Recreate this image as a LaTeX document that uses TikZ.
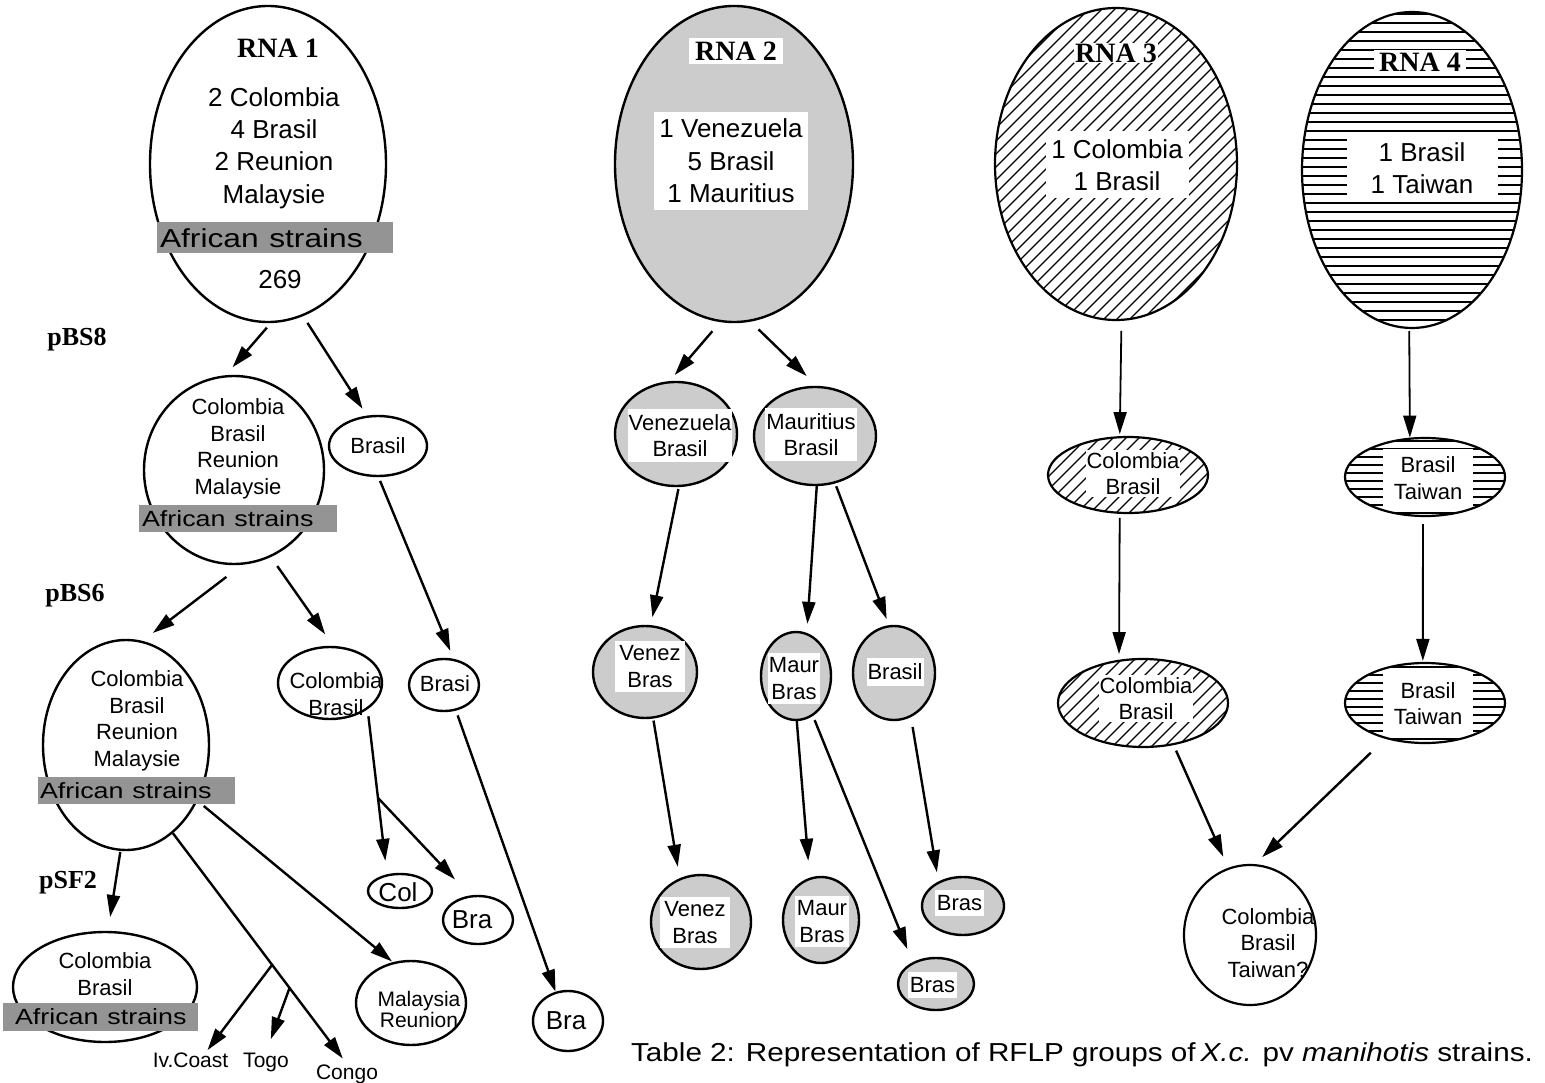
\documentclass[tikz,border=0pt]{standalone}
\usepackage{fontspec}
\setmainfont{Liberation Sans}
\newfontfamily\tnr{Liberation Serif}
\usepackage{graphicx}
\usetikzlibrary{shapes.geometric,arrows.meta,calc}
\newcommand\afrtxt{\scalebox{1.22}[1]{African strains}}
\tikzset{
  ell/.style={ellipse, draw, line width=2.4pt, inner sep=0pt},
  ellg/.style={ell, fill=black!20},
  ellt/.style={ellipse, draw, line width=2.2pt, inner sep=0pt},
  arr/.style={line width=2.4pt, -{Triangle[length=22pt,width=13pt]}},
  arrt/.style={line width=1.8pt, -{Triangle[length=22pt,width=13pt]}},
  fL/.style={inner sep=0pt, align=center, font=\fontsize{26}{32.4}\selectfont},
  fM/.style={inner sep=0pt, align=center, font=\fontsize{22}{26.5}\selectfont},
  fS/.style={inner sep=0pt, align=center, font=\fontsize{21}{21}\selectfont},
  hdr/.style={inner sep=0pt, font=\tnr\bfseries\fontsize{28}{30}\selectfont},
  plab/.style={inner sep=0pt, anchor=base, font=\tnr\bfseries\fontsize{26}{28}\selectfont},
  afr/.style={fill=black!42, inner ysep=0pt, align=left},
  wbox/.style={fill=white},
  hatch/.style={line width=1.3pt},
  hline/.style={line width=1.8pt},
}
\begin{document}
\begin{tikzpicture}[x=1pt,y=-1pt]
\fill[white] (0,0) rectangle (1545,1083);
\useasboundingbox (0,0) rectangle (1545,1083);

% ---------------- RNA 1 group ----------------
\node[ell, minimum width=236, minimum height=316] (rna1) at (268,164) {};
\node[hdr] (rna1h) at (278,48) {RNA 1};
\node[fL] (rna1t) at (274,148) {2 Colombia\\4 Brasil\\2 Reunion\\Malaysie};
\node[afr, font=\fontsize{26}{30}\selectfont, text width=230pt, inner xsep=3pt, minimum height=31pt] (rna1a) at (275,238) {\afrtxt};
\node[fL] (rna1n) at (280,280) {269};

\node[plab] (pbs8) at (77,345) {pBS8};
\node[plab] (pbs6) at (75,601) {pBS6};
\node[plab] (psf2) at (68,888) {pSF2};

\node[ell, minimum width=180, minimum height=188] (mid) at (234,470) {};
\node[fM] (midt) at (238,449) {Colombia\\Brasil\\Reunion\\Malaysie};
\node[afr, font=\fontsize{22}{26}\selectfont, text width=192pt, inner xsep=3pt, minimum height=27pt] (mida) at (238,518.5) {\afrtxt};

\node[ell, minimum width=98, minimum height=60] (brasil) at (378,446) {};
\node[fM] (brasilt) at (378,446) {Brasil};

\node[ell, minimum width=166, minimum height=210] (big) at (126,745) {};
\node[fM] (bigt) at (137,721) {Colombia\\Brasil\\Reunion\\Malaysie};
\node[afr, font=\fontsize{22}{26}\selectfont, text width=193pt, inner xsep=2pt, minimum height=27pt] (biga) at (136.5,790.5) {\afrtxt};

\node[ell, minimum width=104, minimum height=72] (colbra) at (330,683) {};
\node[fM] (colbrat) at (336,694) {Colombia\\Brasil};

\node[ell, minimum width=70, minimum height=52] (brasi) at (444,685) {};
\node[fM] (brasit) at (445,684) {Brasi};

\node[ell, minimum width=64, minimum height=34] (col) at (400,891) {};
\node[fL] (colt) at (398,892) {Col};

\node[ell, minimum width=70, minimum height=48] (bra) at (478,920) {};
\node[fL] (brat) at (472,920) {Bra};

\node[ell, minimum width=70, minimum height=60] (brab) at (568,1021) {};
\node[fL] (brabt) at (566,1021) {Bra};

\node[ell, minimum width=184, minimum height=110] (cba) at (105,987) {};
\node[fM] (cbat) at (105,974) {Colombia\\Brasil};
\node[afr, font=\fontsize{22}{26}\selectfont, text width=171pt, inner xsep=12pt, minimum height=28pt] (cbaa) at (100.5,1017) {\afrtxt};

\node[ell, minimum width=110, minimum height=84] (malay) at (411,1003) {};
\node[fS] (malayt) at (419,1009) {Malaysia\\Reunion};

\node[fS, anchor=base] (ivc) at (190.5,1067) {Iv.Coast};
\node[fS, anchor=base] (togo) at (266,1067) {Togo};
\node[fS, anchor=base] (congo) at (347,1079) {Congo};

% arrows, RNA 1 group
\draw[arr, shorten <=6pt, shorten >=10.5pt] (rna1.271) -- (mid.95);
\draw[arr, shorten <=8pt, shorten >=8pt] (rna1.283) -- (brasil.110);
\draw[arr, shorten <=20pt, shorten >=13pt] (mid.275) -- (big.81);
\draw[arr, shorten <=11pt, shorten >=14pt] (mid.293) -- (colbra.85);
\draw[arr, shorten <=4pt, shorten >=8.5pt] (brasil.271) -- (brasi.70);
\draw[arr, shorten <=7pt, shorten >=13.5pt] (colbra.325) -- (col.128);
\coordinate (brc) at ($(colbra.325)!0.537!(col.128)$);
\draw[arr, shorten >=22pt] (brc) -- (bra.108);
\draw[arr, shorten <=5pt] (brasi.295) -- (brab.113);
\draw[arr, shorten <=1pt, shorten >=14pt] (big.267) -- (cba.87);
\draw[arr, shorten >=7pt] (big.298) -- (congo.north);
\coordinate (b1) at ($(big.298)!0.57!(congo.north)$);
\coordinate (b2) at ($(big.298)!0.67!(congo.north)$);
\draw[arr] (b1) -- ($(ivc.north)+(17,-2)$);
\draw[arr, shorten >=14pt] (b2) -- (togo.north);
\draw[arr, shorten <=8pt, shorten >=1pt] (big.322) -- (malay.114);

% ---------------- RNA 2 group ----------------
\node[ellg, minimum width=238, minimum height=316] (rna2) at (734,164) {};
\node[hdr, wbox, inner xsep=6pt, inner ysep=4pt] (rna2h) at (736,51) {RNA 2};
\node[fL, wbox, minimum width=154, minimum height=98] (rna2t) at (731,161) {1 Venezuela\\5 Brasil\\1 Mauritius};

\node[ellg, minimum width=122, minimum height=104] (vb) at (676,434) {};
\node[fM, wbox, inner xsep=1pt, inner ysep=5pt] (vbt) at (680,435.5) {Venezuela\\Brasil};
\node[ellg, minimum width=122, minimum height=98] (mb) at (815,436) {};
\node[fM, wbox, inner xsep=1pt, inner ysep=5pt] (mbt) at (811,434.5) {Mauritius\\Brasil};

\node[ellg, minimum width=104, minimum height=92] (vbs) at (645,672) {};
\node[fM, wbox, inner xsep=4pt, inner ysep=5pt] (vbst) at (650,666.5) {Venez\\Bras};
\node[ellg, minimum width=70, minimum height=88] (mbs) at (796,676) {};
\node[fM, wbox, inner xsep=1pt, inner ysep=5pt] (mbst) at (794,678.5) {Maur\\Bras};
\node[ellg, minimum width=82, minimum height=94] (bl) at (894,673) {};
\node[fM, wbox, inner xsep=1pt, inner ysep=6pt] (blt) at (895,672) {Brasil};

\node[ellg, minimum width=100, minimum height=94] (vbb) at (701,922) {};
\node[fM, wbox, inner xsep=4pt, inner ysep=5pt] (vbbt) at (695,922.5) {Venez\\Bras};
\node[ellg, minimum width=76, minimum height=86] (mbb) at (821,920) {};
\node[fM, wbox, inner xsep=2pt, inner ysep=5pt] (mbbt) at (822,921.5) {Maur\\Bras};
\node[ellg, minimum width=82, minimum height=58] (bru) at (963,906) {};
\node[fM, wbox, inner xsep=2pt, inner ysep=5pt] (brut) at (959.5,903) {Bras};
\node[ellg, minimum width=76, minimum height=52] (brl) at (936,984) {};
\node[fM, wbox, inner xsep=2pt, inner ysep=5pt] (brlt) at (932.5,985) {Bras};

\draw[arr, shorten <=12pt, shorten >=8pt] (rna2.265) -- (vb.97);
\draw[arr, shorten <=11pt, shorten >=14pt] (rna2.276) -- (mb.88);
\draw[arr, shorten <=2pt, shorten >=8pt] (vb.273) -- (vbs.83);
\draw[arr, shorten >=9pt] (mb.272) -- (mbs.76);
\draw[arr, shorten <=3pt, shorten >=6.5pt] (mb.293) -- (bl.96);
\draw[arr, shorten <=2pt, shorten >=11.6pt] (vbs.280) -- (vbb.116);
\draw[arr, shorten >=17pt] (mbs.271) -- (mbb.105);
\draw[arr, shorten <=4.5pt, shorten >=14pt] (mbs.293) -- (brl.137);
\draw[arr, shorten <=10pt, shorten >=9.3pt] (bl.291) -- (bru.135);

% ---------------- RNA 3 group ----------------
\begin{scope}
  \clip (1116,164) ellipse [x radius=121, y radius=156];
  \foreach \k in {-22,...,22} \draw[hatch] ({916+13*\k},364) -- ({1316+13*\k},-36);
\end{scope}
\node[ellt, minimum width=242, minimum height=312] (rna3) at (1116,164) {};
\node[hdr, wbox, inner xsep=1pt, inner ysep=1pt] (rna3h) at (1116,53) {RNA 3};
\node[fL, wbox, minimum width=143, minimum height=67] (rna3t) at (1117,165) {1 Colombia\\1 Brasil};

\begin{scope}
  \clip (1128,475) ellipse [x radius=80, y radius=38];
  \foreach \k in {-10,...,10} \draw[hatch] ({1068+13*\k},535) -- ({1188+13*\k},415);
\end{scope}
\node[ellt, minimum width=160, minimum height=76] (cb1) at (1128,475) {};
\node[fM, wbox, inner xsep=1pt, inner ysep=2pt] (cb1t) at (1133,473.5) {Colombia\\Brasil};

\begin{scope}
  \clip (1143,703) ellipse [x radius=85, y radius=44];
  \foreach \k in {-10,...,10} \draw[hatch] ({1083+13*\k},763) -- ({1203+13*\k},643);
\end{scope}
\node[ellt, minimum width=170, minimum height=88] (cb2) at (1143,703) {};
\node[fM, wbox, inner xsep=1pt, inner ysep=2pt] (cb2t) at (1146,698.5) {Colombia\\Brasil};

% ---------------- RNA 4 group ----------------
\begin{scope}
  \clip (1412,170) ellipse [x radius=110, y radius=158];
  \foreach \yy in {14,23,...,329} \draw[hline] (1295,\yy) -- (1530,\yy);
\end{scope}
\node[ellt, minimum width=220, minimum height=316] (rna4) at (1412,170) {};
\node[hdr, wbox, inner xsep=5pt, inner ysep=3pt] (rna4h) at (1420,62) {RNA 4};
\node[fL, wbox, minimum width=151, minimum height=67] (rna4t) at (1422,168.5) {1 Brasil\\1 Taiwan};

\begin{scope}
  \clip (1425,477) ellipse [x radius=80, y radius=39];
  \foreach \yy in {441,449,...,515} \draw[hline] (1340,\yy) -- (1510,\yy);
\end{scope}
\node[ellt, minimum width=160, minimum height=78] (bt1) at (1425,477) {};
\node[fM, wbox, minimum width=90, minimum height=58] (bt1t) at (1428,478) {Brasil\\Taiwan};

\begin{scope}
  \clip (1425,703) ellipse [x radius=80, y radius=40];
  \foreach \yy in {667,675,...,743} \draw[hline] (1340,\yy) -- (1510,\yy);
\end{scope}
\node[ellt, minimum width=160, minimum height=80] (bt2) at (1425,703) {};
\node[fM, wbox, minimum width=90, minimum height=60] (bt2t) at (1428,703.5) {Brasil\\Taiwan};

\node[ellt, minimum width=132, minimum height=140] (fin) at (1250,935) {};
\node[fM] (fint) at (1268,943) {Colombia\\Brasil\\Taiwan?};

\draw[arrt, shorten <=10pt, shorten >=2pt] (rna3.272) -- (cb1.102);
\draw[arrt, shorten <=2pt] (rna4.269) -- (bt1.111);
\draw[arrt, shorten <=4pt, shorten >=5.6pt] (cb1.258) -- (cb2.119);
\draw[arrt, shorten <=7pt, shorten >=1pt] (bt1.267) -- (bt2.93);
\draw[arr, shorten <=6pt, shorten >=12pt] (cb2.306) -- (fin.108);
\draw[arr, shorten <=20pt, shorten >=10pt] (bt2.222) -- (fin.86);

% caption
\node[inner sep=0pt, font=\fontsize{26}{30}\selectfont] (cap) at (1082,1055) {\scalebox{1.14}[1]{Table 2: Representation of RFLP groups of\,\textit{X.c.} pv \textit{manihotis} strains.}};
\end{tikzpicture}
\end{document}
